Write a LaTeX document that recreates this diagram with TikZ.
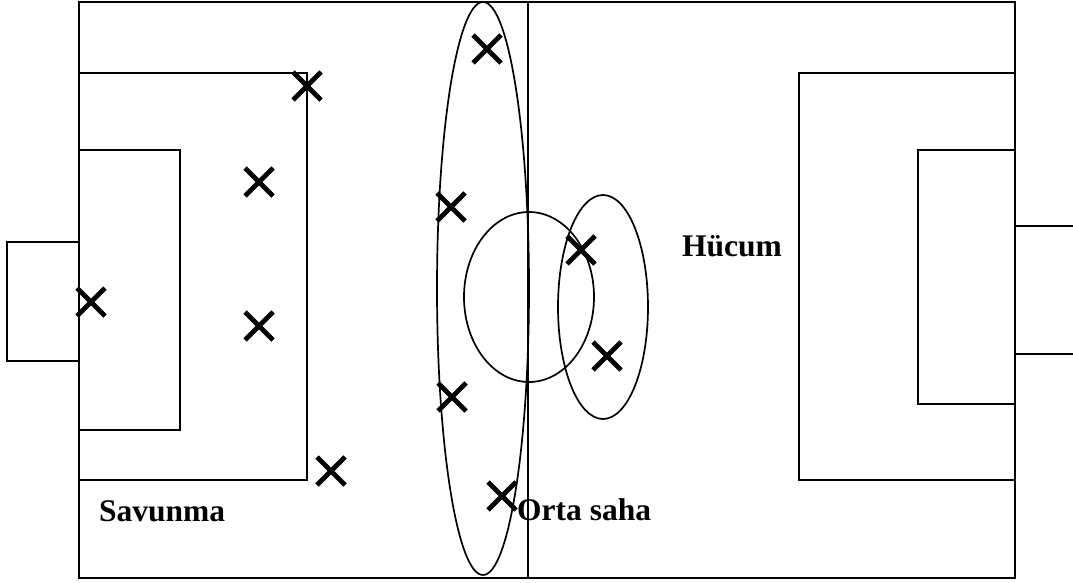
\documentclass[tikz,border=0pt]{standalone}
\usepackage{fontspec}
\setmainfont{Liberation Serif}
\begin{document}
\begin{tikzpicture}[x=1pt,y=-1pt,
  line/.style={draw=black,line width=2.2pt},
  zone/.style={draw=black,line width=1.7pt},
  lbl/.style={font=\fontsize{31.5}{36}\selectfont\bfseries,inner sep=0pt,anchor=base west},
  xm/.pic={\draw[line width=4.8pt] (-14,-14)--(14,14) (-14,14)--(14,-14);}]
\useasboundingbox (0,0) rectangle (1073,583);
% pitch
\draw[line] (79,2) rectangle (1015,578);
\draw[line] (528,2) -- (528,578);
\draw[line] (79,73) -| (307,480) -- (79,480);
\draw[line] (79,150) -| (180,430) -- (79,430);
\draw[line] (79,242) -| (7,361) -- (79,361);
\draw[line] (1015,73) -| (799,480) -- (1015,480);
\draw[line] (1015,150) -| (918,404) -- (1015,404);
\draw[line] (1075,226) -- (1015,226) (1015,354) -- (1075,354);
\draw[zone] (529,297) ellipse [x radius=65, y radius=85];
% zones
\draw[zone] (483,288.5) ellipse [x radius=46, y radius=286.5];
\draw[zone] (603,307) ellipse [x radius=45, y radius=112];
% players
\pic at (307,86) {xm};
\pic at (259,182) {xm};
\pic at (91,302) {xm};
\pic at (259,326) {xm};
\pic at (331,471) {xm};
\pic at (487,49) {xm};
\pic at (451,207) {xm};
\pic at (581,250) {xm};
\pic at (607,356) {xm};
\pic at (452,397) {xm};
\pic at (502,496) {xm};
% labels
\node[lbl] (savunma) at (99,521) {Savunma};
\node[lbl] (orta) at (517,520) {Orta saha};
\node[lbl] (hucum) at (682,256) {Hücum};
\end{tikzpicture}
\end{document}
